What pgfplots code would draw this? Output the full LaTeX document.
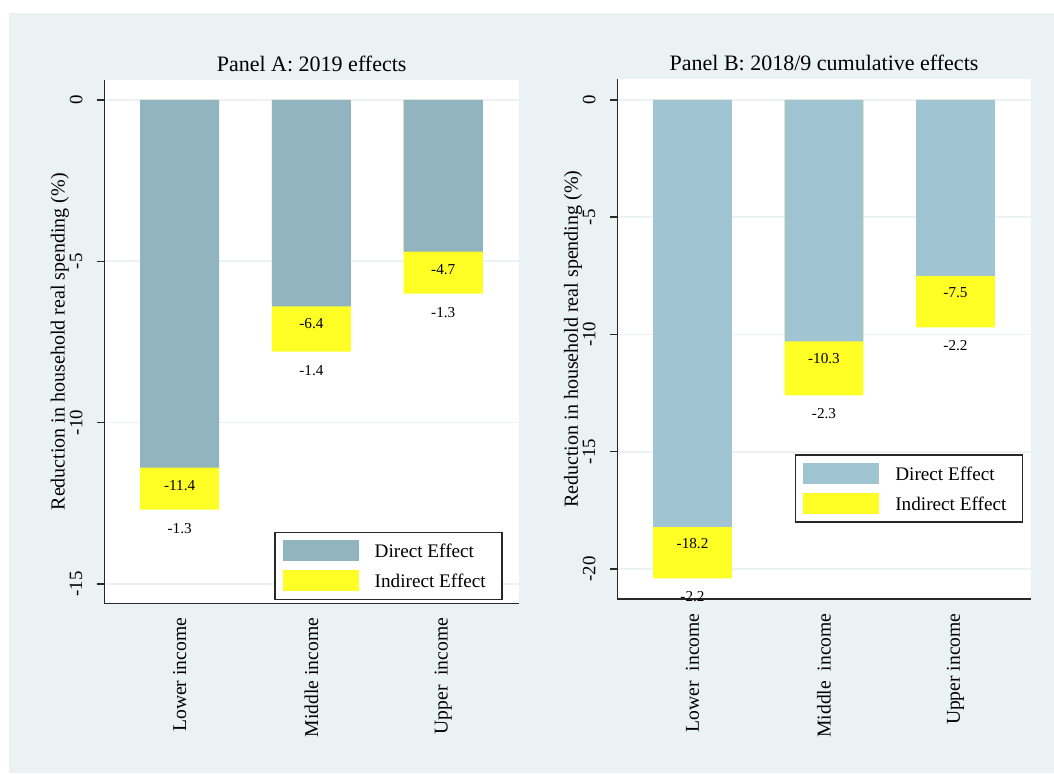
\documentclass[border=0pt]{standalone}
\usepackage{pgfplots}
\pgfplotsset{compat=1.18}
\usepackage{pgfplotstable}
\usepackage{fontspec}
\setmainfont{Liberation Serif}
\definecolor{bgc}{RGB}{234,242,243}
\definecolor{dirA}{RGB}{145,180,192}
\definecolor{dirB}{RGB}{160,196,210}
\definecolor{indc}{RGB}{255,255,38}
\definecolor{axc}{RGB}{40,40,40}

\pgfplotstableread{
x direct indirect
1 -11.4 -1.3
2 -6.4 -1.4
3 -4.7 -1.3
}\tabA
\pgfplotstableread{
x direct indirect
1 -18.2 -2.2
2 -10.3 -2.3
3 -7.5 -2.2
}\tabB

\pgfplotsset{
  panel/.style={
    scale only axis,
    axis background/.style={fill=white},
    ybar, bar shift=0pt,
    bar width=0.6,
    xtick={1,2,3},
    axis x line*=bottom,
    axis y line*=left,
    axis line style={axc, line width=0.75pt},
    tick align=outside,
    major tick length=3.5pt,
    ytick style={axc, line width=0.75pt},
    xtick style={draw=none},
    ymajorgrids,
    major grid style={bgc, line width=0.9pt},
    yticklabel style={xshift=-10.6pt, rotate=90, anchor=center, font=\fontsize{9.4}{11}\selectfont},
    xticklabel style={yshift=-3.5pt, rotate=90, anchor=east, inner sep=0pt, font=\fontsize{9.8}{12}\selectfont},
    every axis y label/.style={at={(axis description cs:-0.107,0.5)}, rotate=90, anchor=center, font=\fontsize{10}{12}\selectfont},
    ylabel={Reduction in household real spending (\%)},
    every axis title/.style={at={(axis description cs:0.5,1)}, anchor=base, yshift=4.4pt, font=\fontsize{11}{13}\selectfont},
    legend image code/.code={\fill[##1, draw=none] (0pt,-5.25pt) rectangle (38pt,5.25pt);},
    legend style={anchor=north west, draw=axc, line width=0.7pt, fill=white, inner xsep=3.8pt, inner ysep=4pt, row sep=4.5pt, column sep=8pt, font=\fontsize{9.6}{11}\selectfont, nodes={inner sep=0pt, text height=6.5pt, text depth=0pt}},
    legend cell align=left,
    reverse legend,
    every node near coord/.append style={anchor=center, font=\fontsize{7.6}{9}\selectfont, text=black},
  },
}

\begin{document}
\begin{tikzpicture}
\fill[white] (0,0) rectangle (527pt,-387pt);
\fill[bgc] (4.6pt,-6.6pt) rectangle (527pt,-386.6pt);

\begin{axis}[panel,
  at={(52.15pt,-301.75pt)}, anchor=south west,
  width=207.35pt, height=261.75pt,
  xmin=0.428, xmax=3.575, ymin=-15.61, ymax=0.62,
  ytick={-15,-10,-5,0}, yticklabels={-15,-10,-5,0},
  xticklabels={Lower income, Middle income, Upper\ \ income},
  title={Panel A: 2019 effects},
  legend style={at={(axis description cs:0.4102,0.1372)}},
]
% total bar (direct + indirect) in yellow, direct bar drawn over it
\addplot[fill=indc, draw=none, nodes near coords, point meta=explicit symbolic,
  every node near coord/.append style={yshift=-9.3pt}]
  table[x=x, y expr=\thisrow{direct}+\thisrow{indirect}, meta=indirect] {\tabA};
\addplot[fill=dirA, draw=none, nodes near coords, point meta=explicit symbolic,
  every node near coord/.append style={yshift=-8.8pt}]
  table[x=x, y=direct, meta=direct] {\tabA};
\legend{Indirect Effect\kern4.3pt, Direct Effect}
\end{axis}

\begin{axis}[panel,
  at={(308.65pt,-299.5pt)}, anchor=south west,
  width=206.7pt, height=259.85pt,
  xmin=0.428, xmax=3.572, ymin=-21.28, ymax=0.88,
  ytick={-20,-15,-10,-5,0}, yticklabels={-20,-15,-10,-5,0},
  xticklabels={Lower\ \ income, Middle\ \ income, Upper income},
  title={Panel B: 2018/9 cumulative effects},
  legend style={at={(axis description cs:0.4299,0.2784)}},
]
\addplot[fill=indc, draw=none, nodes near coords, point meta=explicit symbolic,
  every node near coord/.append style={yshift=-9.1pt}]
  table[x=x, y expr=\thisrow{direct}+\thisrow{indirect}, meta=indirect] {\tabB};
\addplot[fill=dirB, draw=none, nodes near coords, point meta=explicit symbolic,
  every node near coord/.append style={yshift=-8.4pt}]
  table[x=x, y=direct, meta=direct] {\tabB};
\legend{Indirect Effect\kern4.3pt, Direct Effect}
\end{axis}

\pgfresetboundingbox
\useasboundingbox (0,0) rectangle (527pt,-387pt);
\end{tikzpicture}
\end{document}
